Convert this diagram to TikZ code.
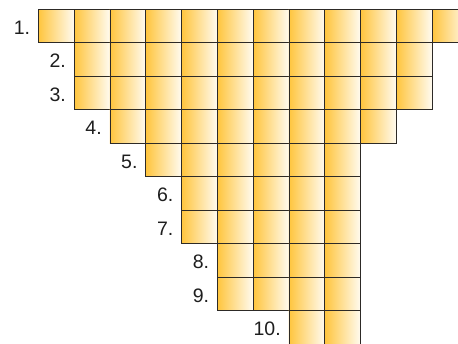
\documentclass[tikz,border=0pt]{standalone}
\usepackage{fontspec}
\setmainfont{Liberation Sans}
\definecolor{cellorange}{RGB}{255,197,62}
\definecolor{cellpale}{RGB}{255,251,240}
\definecolor{cellline}{RGB}{45,42,38}
\definecolor{lbltext}{RGB}{30,30,30}
\tikzset{
  cell/.style={draw=cellline, line width=0.8pt, left color=cellorange, right color=cellpale,
    minimum width=35.8pt, minimum height=33.5pt, inner sep=0pt, outer sep=0pt, anchor=north west},
  lbl/.style={font=\fontsize{19.5}{22}\selectfont, text=lbltext, inner sep=0pt, anchor=base east}
}
\begin{document}
\begin{tikzpicture}[x=1pt,y=-1pt]
\clip (0,0) rectangle (458,343);
\fill[white] (0,0) rectangle (458,343);
\foreach \r/\a/\b in {1/0/11, 2/1/10, 3/1/10, 4/2/9, 5/3/8, 6/4/8, 7/4/8, 8/5/8, 9/5/8, 10/7/8} {
  \pgfmathsetmacro\yt{9.3+33.5*(\r-1)}
  \foreach \k in {\a,...,\b} {
    \node[cell] (c\r-\k) at ({38.3+35.8*\k},\yt) {};
  }
  \node[lbl] (l\r) at ({38.3+35.8*\a-8},{\yt+25}) {\r.};
}
\end{tikzpicture}
\end{document}
